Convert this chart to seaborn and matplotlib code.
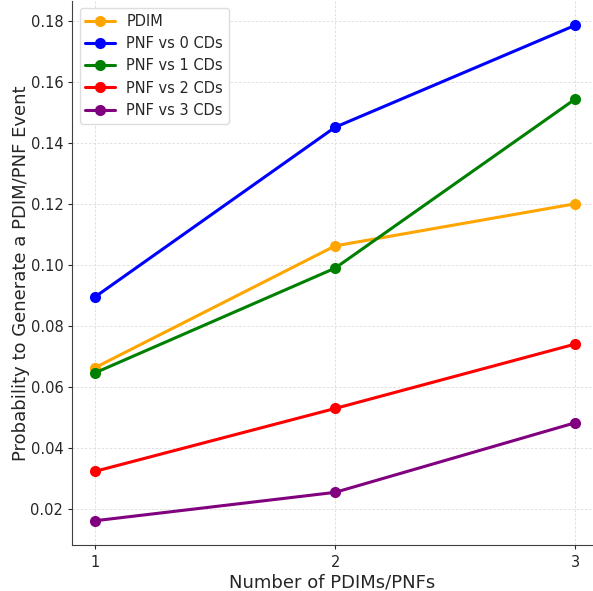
import pandas as pd
import matplotlib
matplotlib.use("Agg")
import matplotlib.pyplot as plt
import seaborn as sns

# Values
n_units = [1, 2, 3]
pdim = [0.0665, 0.1064, 0.1202]
pnf_0cd = [0.0897, 0.1453, 0.1787]
pnf_1cd = [0.0648, 0.0991, 0.1545]
pnf_2cd = [0.0325, 0.0531, 0.0742]
pnf_3cd = [0.0163, 0.0256, 0.0484]

series = {
    "PDIM": pdim,
    "PNF vs 0 CDs": pnf_0cd,
    "PNF vs 1 CDs": pnf_1cd,
    "PNF vs 2 CDs": pnf_2cd,
    "PNF vs 3 CDs": pnf_3cd,
}
colors = ["orange", "blue", "green", "red", "purple"]

# long format for seaborn
df = pd.DataFrame([
    {"n": x, "p": y, "label": name}
    for name, vals in series.items()
    for x, y in zip(n_units, vals)
])

sns.set_style("ticks")
plt.rcParams['font.family'] = ['DejaVu Sans']

fig, ax = plt.subplots(figsize=(5.93, 5.91), dpi=100)
sns.lineplot(data=df, x="n", y="p", hue="label", palette=colors,
             marker="o", markersize=8, markeredgewidth=0, linewidth=2.2, ax=ax)

ax.set_xticks(n_units)
ax.set_xlim(0.905, 3.07)
ax.set_xlabel("Number of PDIMs/PNFs", fontsize=13, color="#262626", labelpad=3)
ax.set_ylabel("Probability to Generate a PDIM/PNF Event", fontsize=13,
              color="#262626", labelpad=0)
ax.tick_params(labelsize=10.5, colors="#262626", direction="out", length=3)
ax.grid(True, linestyle=(0, (3, 2)), color="#dcdcdc", linewidth=0.6)
for s in ["top", "right"]:
    ax.spines[s].set_visible(False)
for s in ["left", "bottom"]:
    ax.spines[s].set_color("#404040")

ax.legend(title=None, loc="upper left", fontsize=10.5, framealpha=1,
          edgecolor="#dddddd")

fig.subplots_adjust(left=0.122, right=0.998, top=0.999, bottom=0.077)
fig.savefig("out.png", dpi=100)
